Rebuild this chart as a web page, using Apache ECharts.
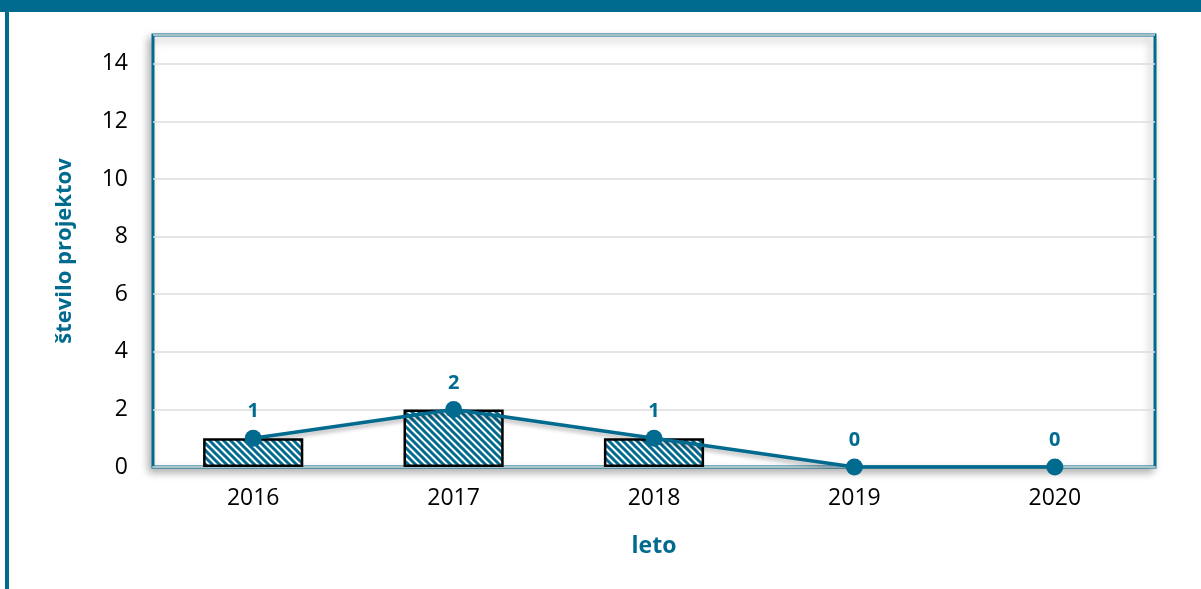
<!DOCTYPE html>
<html>
<head>
<meta charset="utf-8">
<script src="https://cdn.jsdelivr.net/npm/echarts@6/dist/echarts.min.js"></script>
<style>
  html, body { margin: 0; padding: 0; background: #fff; }
  #chart { width: 1201px; height: 589px; }
</style>
</head>
<body>
<div id="chart"></div>
<script>
var years = ['2016', '2017', '2018', '2019', '2020'];
var projects = [1, 2, 1, 0, 0];
var yTicks = [0, 2, 4, 6, 8, 10, 12, 14];

var teal = '#006a8f';

// diagonal hatch for the bars
function hatch() {
  var c = document.createElement('canvas');
  c.width = 7; c.height = 7;
  var ctx = c.getContext('2d');
  ctx.fillStyle = '#fff';
  ctx.fillRect(0, 0, 7, 7);
  ctx.strokeStyle = teal;
  ctx.lineWidth = 3;
  ctx.beginPath();
  ctx.moveTo(-1, -1); ctx.lineTo(8, 8);
  ctx.moveTo(-1, 6); ctx.lineTo(1, 8);
  ctx.moveTo(6, -1); ctx.lineTo(8, 1);
  ctx.stroke();
  return c;
}

var chart = echarts.init(document.getElementById('chart'));
chart.setOption({
  animation: false,
  graphic: [
    { type: 'rect', shape: { x: 0, y: 0, width: 1201, height: 12 }, style: { fill: teal } },
    { type: 'rect', shape: { x: 5, y: 0, width: 4, height: 589 }, style: { fill: teal } }
  ],
  grid: {
    left: 153, right: 46, top: 35, bottom: 122,
    show: true,
    borderColor: teal,
    borderWidth: 3,
    backgroundColor: '#fff',
    shadowColor: 'rgba(0,0,0,0.3)',
    shadowBlur: 8,
    shadowOffsetX: -3,
    shadowOffsetY: 4
  },
  xAxis: {
    type: 'category',
    data: years,
    name: 'leto',
    nameLocation: 'middle',
    nameGap: 68,
    nameTextStyle: { color: teal, fontWeight: 'bold', fontSize: 23, fontFamily: 'Open Sans' },
    axisLine: { lineStyle: { color: '#a7c3cc', width: 2 } },
    axisTick: { show: false },
    axisLabel: { color: '#000', fontSize: 23, margin: 20, fontFamily: 'Open Sans' }
  },
  yAxis: {
    type: 'value',
    min: yTicks[0],
    max: 15,
    interval: 2,
    name: 'število projektov',
    nameLocation: 'middle',
    nameGap: 77,
    nameTextStyle: { color: teal, fontWeight: 'bold', fontSize: 22, fontFamily: 'Open Sans' },
    axisLine: { show: false },
    axisTick: { show: false },
    axisLabel: { color: '#000', fontSize: 23, margin: 25, fontFamily: 'Open Sans', showMaxLabel: false },
    splitLine: { lineStyle: { color: '#dcdcdc', width: 1.5 } }
  },
  series: [
    {
      type: 'bar',
      data: projects.map(function (v) { return v === 0 ? '-' : v; }),
      barWidth: '50%',
      itemStyle: {
        color: { image: hatch(), repeat: 'repeat' },
        borderColor: '#000',
        borderWidth: 2.5
      },
      z: 2
    },
    {
      type: 'line',
      data: projects,
      symbol: 'circle',
      symbolSize: 17,
      lineStyle: { color: teal, width: 3.5, shadowColor: 'rgba(0,0,0,0.3)', shadowBlur: 4, shadowOffsetY: 3 },
      itemStyle: { color: teal },
      label: {
        show: true,
        position: 'top',
        distance: 8,
        color: teal,
        fontWeight: 'bold',
        fontSize: 20,
        fontFamily: 'Open Sans'
      },
      z: 3
    }
  ]
});
</script>
</body>
</html>
